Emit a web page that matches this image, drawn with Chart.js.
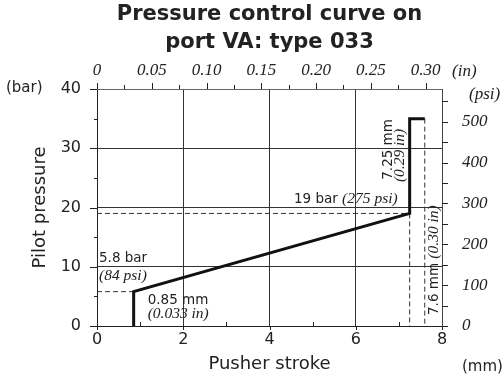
<!DOCTYPE html>
<html>
<head>
<meta charset="utf-8">
<title>Pressure control curve on port VA: type 033</title>
<script src="https://cdn.jsdelivr.net/npm/chart.js@4.4.1/dist/chart.umd.min.js"></script>
<style>
  html, body { margin: 0; padding: 0; background: #fff; }
  #wrap { position: relative; width: 503px; height: 376px; }
</style>
</head>
<body>
<div id="wrap"><canvas id="pressure-chart"></canvas></div>
<script>
// Pressure control curve on port VA, type 033

// curve points: pusher stroke (mm) / pilot pressure (bar)
const strokeMm = [0.85, 0.85, 7.25, 7.25, 7.6];
const pressureBar = [0, 5.8, 19, 35, 35];

// axis ticks (an empty label means a minor tick)
const strokeTicks = [0, 1, 2, 3, 4, 5, 6, 7, 8];
const strokeLabels = ['0', '', '2', '', '4', '', '6', '', '8'];
const pressureTicks = [0, 5, 10, 15, 20, 25, 30, 35, 40];
const pressureLabels = ['0', '', '10', '', '20', '', '30', '', '40'];
const inchTicks = [0, 0.025, 0.05, 0.075, 0.1, 0.125, 0.15, 0.175, 0.2, 0.225, 0.25, 0.275, 0.3];
const inchLabels = ['0', '', '0.05', '', '0.10', '', '0.15', '', '0.20', '', '0.25', '', '0.30'];
const psiTicks = [0, 50, 100, 150, 200, 250, 300, 350, 400, 450, 500, 550];
const psiLabels = ['0', '', '100', '', '200', '', '300', '', '400', '', '500', ''];

const MM_PER_IN = 25.4;
const PSI_PER_BAR = 14.5038;

const sans = '"DejaVu Sans", sans-serif';
const serif = '"Liberation Serif", serif';
const ink = '#222';

Chart.defaults.font.family = sans;
Chart.defaults.color = ink;

// dashed guides to the axes
const pt = (x, y) => ({ x, y });
const guides = [
  [pt(0, pressureBar[1]), pt(strokeMm[1], pressureBar[1])],
  [pt(0, pressureBar[2]), pt(strokeMm[2], pressureBar[2])],
  [pt(strokeMm[2], pressureBar[2]), pt(strokeMm[2], 0)],
  [pt(strokeMm[4], pressureBar[4]), pt(strokeMm[4], 0)],
];

const setTicks = values => scale => {
  scale.ticks = values.map(v => ({ value: v }));
};
const majorOnly = (ticks, labels, lo, hi) => ctx => {
  if (!ctx.tick) return 'transparent';
  const i = ticks.indexOf(ctx.tick.value);
  const v = ctx.tick.value;
  return labels[i] && v > lo && v < hi ? '#333' : 'transparent';
};

// short tick marks around the frame
const tickMarks = {
  id: 'tickMarks',
  afterDraw(chart) {
    const { ctx, chartArea: a, scales } = chart;
    const al = p => Math.round(p) + 0.5;
    const line = (x1, y1, x2, y2) => {
      ctx.beginPath(); ctx.moveTo(x1, y1); ctx.lineTo(x2, y2); ctx.stroke();
    };
    ctx.save();
    ctx.strokeStyle = ink;
    ctx.lineWidth = 1;
    scales.x.ticks.forEach((t, i) => {
      const p = al(scales.x.getPixelForValue(t.value));
      if (strokeLabels[i]) line(p, a.bottom, p, a.bottom + 4);
      else line(p, a.bottom, p, a.bottom - 4);
    });
    scales.y.ticks.forEach((t, i) => {
      const p = al(scales.y.getPixelForValue(t.value));
      line(a.left, p, a.left - (pressureLabels[i] ? 7 : 3), p);
    });
    scales.x2.ticks.forEach((t, i) => {
      const p = al(scales.x2.getPixelForValue(t.value));
      line(p, a.top, p, a.top - (inchLabels[i] ? 6 : 4));
    });
    scales.y2.ticks.forEach(t => {
      const p = al(scales.y2.getPixelForValue(t.value));
      line(a.right, p, a.right + 6, p);
    });
    ctx.restore();
  }
};

// unit captions and value callouts
const callouts = {
  id: 'callouts',
  afterDraw(chart) {
    const { ctx } = chart;
    const { x, y } = chart.scales;
    const px = v => x.getPixelForValue(v);
    const py = v => y.getPixelForValue(v);
    const put = (str, tx, ty, font, align = 'left', base = 'alphabetic') => {
      ctx.font = font;
      ctx.textAlign = align;
      ctx.textBaseline = base;
      ctx.fillText(str, tx, ty);
    };
    const sansF = s => `${s}px ${sans}`;
    const serifF = s => `italic ${s}px ${serif}`;
    ctx.save();
    ctx.fillStyle = ink;

    // units
    put('(bar)', 6, py(40) - 1, sansF(15), 'left', 'middle');
    put('(mm)', 462, 371, sansF(15));
    put('(in)', 452, 76, serifF(17));
    put('(psi)', 469, 99, serifF(17));

    // opening point
    put('5.8 bar', px(0) + 2, py(pressureBar[1]) - 30, sansF(13.5));
    put('(84 psi)', px(0) + 2, py(pressureBar[1]) - 12, serifF(15.5));
    put('0.85 mm', px(strokeMm[1]) + 14, py(0) - 22, sansF(13.5));
    put('(0.033 in)', px(strokeMm[1]) + 14, py(0) - 8, serifF(15.5));

    // knee
    const kx = px(strokeMm[2]);
    const ky = py(pressureBar[2]);
    ctx.font = serifF(15.5);
    const psiW = ctx.measureText('(275 psi)').width;
    put('(275 psi)', kx - 12, ky - 10, serifF(15.5), 'right');
    put('19 bar ', kx - 12 - psiW, ky - 10, sansF(13.5), 'right');

    ctx.save();
    ctx.translate(kx - 18, ky - 64);
    ctx.rotate(-Math.PI / 2);
    put('7.25 mm', 0, 0, sansF(13.5), 'center');
    ctx.restore();
    ctx.save();
    ctx.translate(kx - 5.5, ky - 58);
    ctx.rotate(-Math.PI / 2);
    put('(0.29 in)', 0, 0, serifF(15.5), 'center');
    ctx.restore();

    // end of stroke
    ctx.save();
    ctx.translate(px(strokeMm[4]) + 13, py(0) - 11);
    ctx.rotate(-Math.PI / 2);
    put('7.6 mm ', 0, 0, sansF(13.5));
    ctx.font = sansF(13.5);
    const w = ctx.measureText('7.6 mm ').width;
    put('(0.30 in)', w, 0, serifF(15.5));
    ctx.restore();

    ctx.restore();
  }
};

const ctx = document.getElementById('pressure-chart').getContext('2d');

new Chart(ctx, {
  type: 'line',
  data: {
    datasets: [
      {
        label: 'Pilot pressure',
        data: strokeMm.map((s, i) => pt(s, pressureBar[i])),
        borderColor: '#111',
        borderWidth: 3,
        borderJoinStyle: 'miter',
        pointRadius: 0,
        tension: 0,
        fill: false,
      },
      ...guides.map(g => ({
        data: g,
        borderColor: '#333',
        borderWidth: 1,
        borderDash: [5, 3],
        pointRadius: 0,
        fill: false,
      })),
    ],
  },
  options: {
    responsive: true,
    maintainAspectRatio: false,
    animation: false,
    layout: { padding: 0 },
    plugins: {
      legend: { display: false },
      tooltip: { enabled: false },
      title: {
        display: true,
        fullSize: false,
        text: ['Pressure control curve on', 'port VA: type 033'],
        color: ink,
        font: { family: sans, size: 21, weight: 'bold', lineHeight: 1.35 },
        padding: { top: 0, bottom: 0 },
      },
    },
    scales: {
      x: {
        type: 'linear',
        position: 'bottom',
        min: 0,
        max: 8,
        afterBuildTicks: setTicks(strokeTicks),
        afterFit: s => { s.height = 50; },
        ticks: {
          autoSkip: false,
          maxRotation: 0,
          padding: 4,
          font: { size: 16 },
          callback: (v, i) => strokeLabels[i],
        },
        grid: { drawTicks: false, color: majorOnly(strokeTicks, strokeLabels, 0, 8) },
        border: { color: ink },
        title: {
          display: true,
          text: 'Pusher stroke',
          font: { size: 18 },
          padding: { top: 0, bottom: 1 },
        },
      },
      y: {
        type: 'linear',
        position: 'left',
        min: 0,
        max: 40,
        afterBuildTicks: setTicks(pressureTicks),
        afterFit: s => { s.width = 97; },
        ticks: {
          autoSkip: false,
          padding: 16,
          font: { size: 16 },
          callback: (v, i) => pressureLabels[i],
        },
        grid: { drawTicks: false, color: majorOnly(pressureTicks, pressureLabels, 0, 40) },
        border: { color: ink },
        title: {
          display: true,
          text: 'Pilot pressure',
          font: { size: 18 },
          padding: { top: 30, bottom: 0 },
        },
      },
      x2: {
        type: 'linear',
        axis: 'x',
        position: 'top',
        display: true,
        min: 0,
        max: 8 / MM_PER_IN,
        afterBuildTicks: setTicks(inchTicks),
        afterFit: s => { s.height = 89 - 2 * 21 * 1.35; },
        ticks: {
          autoSkip: false,
          maxRotation: 0,
          padding: 8,
          font: { family: serif, size: 17, style: 'italic' },
          callback: (v, i) => inchLabels[i],
        },
        grid: { drawTicks: false, color: 'transparent' },
        border: { color: '#666' },
      },
      y2: {
        type: 'linear',
        axis: 'y',
        position: 'right',
        display: true,
        min: 0,
        max: 40 * PSI_PER_BAR,
        afterBuildTicks: setTicks(psiTicks),
        afterFit: s => { s.width = 61; },
        ticks: {
          autoSkip: false,
          padding: 20,
          font: { family: serif, size: 17, style: 'italic' },
          callback: (v, i) => psiLabels[i],
        },
        grid: { drawTicks: false, color: 'transparent' },
        border: { color: '#444' },
      },
    },
  },
  plugins: [tickMarks, callouts],
});
</script>
</body>
</html>
